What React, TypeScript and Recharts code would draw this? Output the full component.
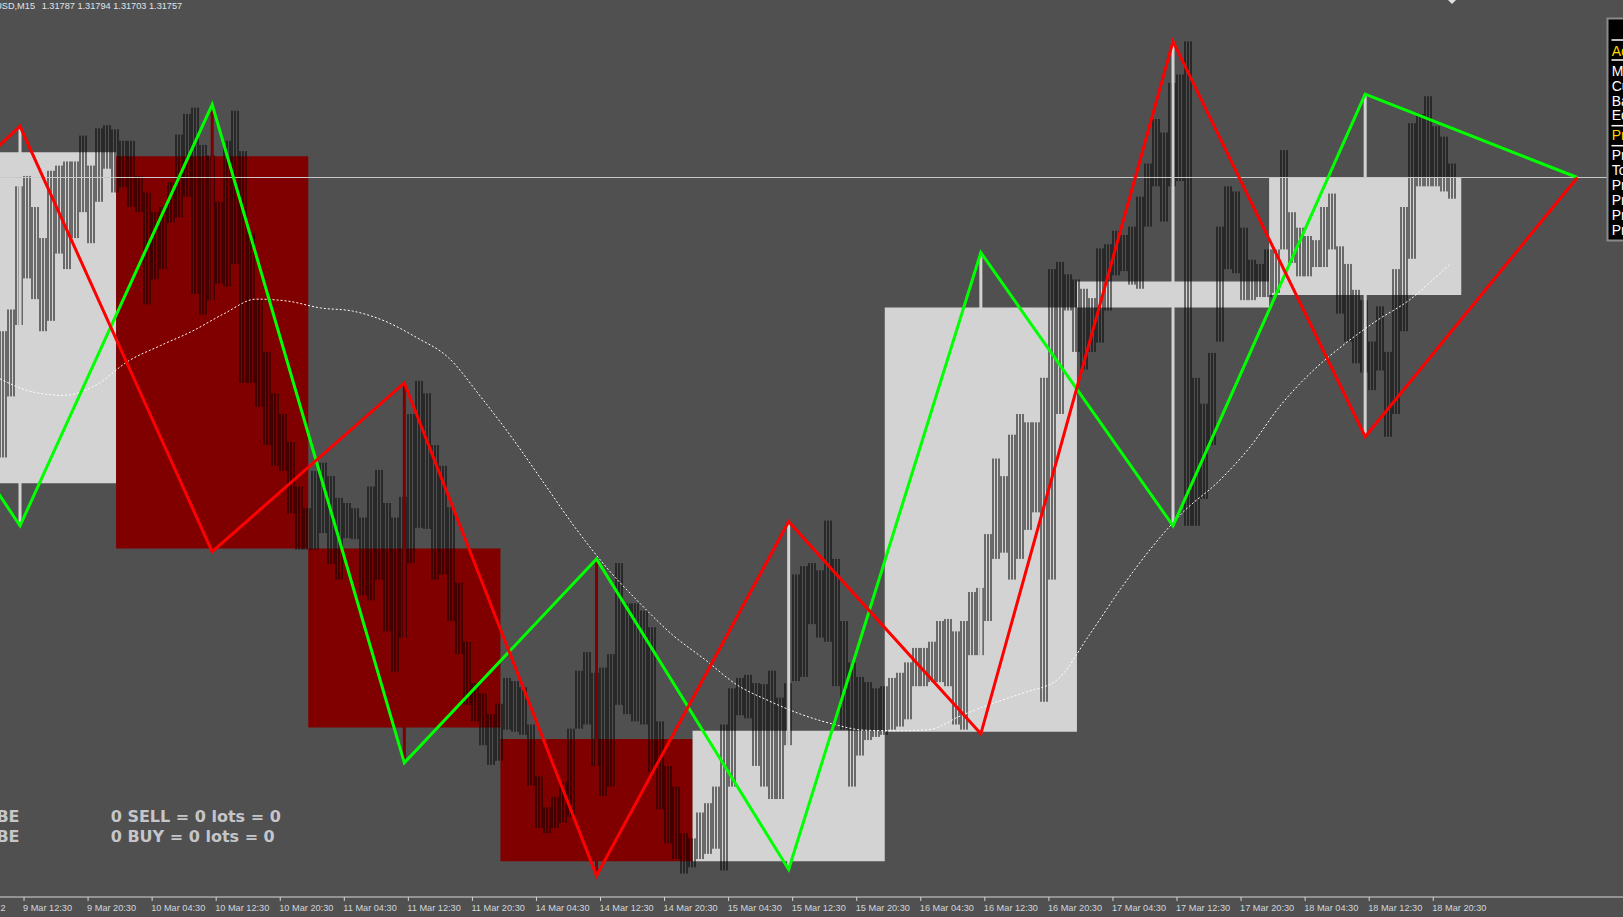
import React from 'react';
import { ComposedChart, XAxis, YAxis, Bar, Line, ReferenceArea, ReferenceLine } from 'recharts';

const WIDTH = 1623;
const HEIGHT = 917;
const BG = '#505050';
const AXIS_COLOR = '#d6d6d6';
const LABEL_COLOR = '#d2d6de';
const BULL = '#d3d3d3';
const BEAR = '#800000';
const FONT = "'Liberation Sans', Arial, sans-serif";

// ---- header / text ----
const symbolName = 'GBPUSD,M15';
const headerPrices = ['1.31787', '1.31794', '1.31703', '1.31757'];
const firstDayLabel = '9 Mar 2022';
const sellLine = '0 SELL = 0 lots = 0';
const buyLine = '0 BUY = 0 lots = 0';
const panelRows = ['Account', 'Margin', 'Currency', 'Balance', 'Equity', 'Profit', 'Profit', 'Total', 'Profit', 'Profit', 'Profit', 'Profit'];
const panelRowColors = ['#ffd700', '#fff', '#fff', '#fff', '#fff', '#ffd700', '#fff', '#fff', '#fff', '#fff', '#fff', '#fff'];

// ---- time axis (M15 bar index, bar 0 = 9 Mar 09:30) ----
const tickBars = [12, 44, 76, 108, 140, 172, 204, 236, 268, 300, 332, 364, 396, 428, 460, 492, 524, 556, 588, 620, 652, 684, 716];
const tickLabels = ['9 Mar 12:30', '9 Mar 20:30', '10 Mar 04:30', '10 Mar 12:30', '10 Mar 20:30', '11 Mar 04:30', '11 Mar 12:30', '11 Mar 20:30',
  '14 Mar 04:30', '14 Mar 12:30', '14 Mar 20:30', '15 Mar 04:30', '15 Mar 12:30', '15 Mar 20:30', '16 Mar 04:30', '16 Mar 12:30',
  '16 Mar 20:30', '17 Mar 04:30', '17 Mar 12:30', '17 Mar 20:30', '18 Mar 04:30', '18 Mar 12:30', '18 Mar 20:30'];

// ---- hourly price ranges (points, 1.31757 = 131757) ----
const barHigh = [
  131460, 131502, 131740, 131760, 131700, 131640, 131770, 131780, 131788, 131788,
  131838, 131780, 131852, 131858, 131850, 131828, 131828, 131760, 131728, 131690,
  131700, 131748, 131840, 131880, 131892, 131820, 131800, 131710, 131828, 131886,
  131808, 131650, 131520, 131420, 131340, 131300, 131246, 131160, 131118, 131190,
  131206, 131180, 131138, 131128, 131118, 131100, 131160, 131192, 131128, 131100,
  131140, 131300, 131364, 131340, 131240, 131200, 131120, 130974, 130860, 130780,
  130760, 130720, 130740, 130790, 130784, 130772, 130700, 130600, 130540, 130560,
  130588, 130692, 130804, 130840, 130800, 130810, 130836, 131012, 130934, 130934,
  130920, 130888, 130706, 130620, 130580, 130490, 130480, 130530, 130548, 130580,
  130700, 130770, 130790, 130796, 130780, 130778, 130804, 130752, 130780, 130990,
  131006, 131012, 130998, 131094, 131020, 130900, 130820, 130792, 130782, 130770,
  130774, 130790, 130800, 130820, 130848, 130848, 130860, 130900, 130904, 130880,
  130900, 130956, 130964, 131068, 131214, 131180, 131260, 131300, 131284, 131284,
  131370, 131580, 131594, 131570, 131560, 131542, 131524, 131620, 131628, 131654,
  131646, 131662, 131720, 131784, 131870, 131844, 131940, 131956, 132020, 131370,
  131320, 131418, 131662, 131740, 131730, 131660, 131598, 131590, 131618, 131618,
  131810, 131690, 131660, 131644, 131636, 131700, 131726, 131624, 131590, 131540,
  131520, 131440, 131508, 131420, 131580, 131700, 131862, 131880, 131914, 131856,
  131836, 131784,
];
const barLow = [
  131216, 131334, 131472, 131562, 131522, 131460, 131480, 131610, 131580, 131640,
  131690, 131630, 131710, 131774, 131728, 131738, 131700, 131690, 131512, 131560,
  131580, 131670, 131680, 131720, 131532, 131492, 131520, 131552, 131546, 131590,
  131360, 131360, 131314, 131240, 131200, 131190, 131108, 131038, 131038, 131038,
  131070, 131010, 130980, 131060, 131058, 130950, 130940, 130980, 130880, 130802,
  130868, 131012, 131080, 131078, 130980, 130990, 130900, 130836, 130738, 130706,
  130660, 130622, 130630, 130690, 130686, 130680, 130582, 130500, 130490, 130500,
  130510, 130522, 130692, 130700, 130620, 130562, 130580, 130738, 130720, 130706,
  130700, 130608, 130536, 130470, 130440, 130412, 130424, 130440, 130450, 130460,
  130418, 130580, 130718, 130712, 130620, 130580, 130556, 130556, 130660, 130784,
  130792, 130894, 130868, 130860, 130774, 130690, 130580, 130640, 130670, 130676,
  130680, 130690, 130696, 130710, 130774, 130774, 130782, 130782, 130774, 130700,
  130690, 130834, 130834, 130900, 131020, 131032, 130980, 131020, 131076, 131110,
  130744, 130980, 131300, 131500, 131420, 131386, 131420, 131438, 131500, 131568,
  131576, 131550, 131542, 131662, 131740, 131672, 131740, 131750, 131084, 131084,
  131136, 131240, 131440, 131580, 131572, 131520, 131520, 131526, 131526, 131534,
  131618, 131592, 131566, 131566, 131584, 131584, 131618, 131494, 131440, 131398,
  131380, 131346, 131384, 131256, 131300, 131460, 131600, 131740, 131740, 131740,
  131730, 131716,
];

// ---- moving average ----
const maTime = [0, 16, 32, 48, 64, 80, 96, 112, 128, 144, 160, 176, 192, 208, 224, 240, 256, 272, 288, 304, 320, 336, 352, 368, 384, 400,
  416, 432, 448, 464, 480, 496, 512, 528, 544, 560, 576, 592, 608, 624, 640, 656, 672, 688, 704, 720, 724];
const maValue = [131368, 131343, 131336, 131356, 131402, 131432, 131460, 131494, 131522, 131518, 131505, 131499, 131480, 131448, 131409,
  131334, 131253, 131165, 131077, 130999, 130933, 130873, 130826, 130777, 130746, 130720, 130701, 130689, 130688, 130690, 130717,
  130741, 130762, 130786, 130872, 130963, 131045, 131114, 131167, 131234, 131318, 131384, 131436, 131481, 131520, 131574, 131588];

// ---- daily candles (higher timeframe boxes) ----
const dayNames = ['9 Mar', '10 Mar', '11 Mar', '14 Mar', '15 Mar', '16 Mar', '17 Mar', '18 Mar'];
const dayStart = [-38, 58, 154, 250, 346, 442, 538, 634];
const dayOpen = [131166, 131798, 131040, 130672, 130436, 130686, 131506, 131530];
const dayHigh = [131856, 131898, 131360, 131020, 131092, 131612, 132020, 131918];
const dayLow = [131084, 131034, 130626, 130408, 130420, 130682, 131084, 131256];
const dayClose = [131806, 131040, 130694, 130436, 130688, 131506, 131556, 131756];
const prevDayCenter = -86;
const prevDayHigh = 131641;
const prevDayLow = 131510;
const projectionTime = 788;
const projectionPrice = 131757;
const lastPrice = 131757;

// ---- tables ----
const hourData = barHigh.map((h, i) => ({ t: i * 4 + 1.5, range: [barLow[i], h] }));
const maData = maTime.map((t, i) => ({ t, v: maValue[i] }));
const redZig = [
  { t: prevDayCenter, v: prevDayLow },
  ...dayNames.map((_, k) => ({ t: dayStart[k] + 48, v: k % 2 === 0 ? dayHigh[k] : dayLow[k] })),
  { t: projectionTime, v: projectionPrice },
];
const greenZig = [
  { t: prevDayCenter, v: prevDayHigh },
  ...dayNames.map((_, k) => ({ t: dayStart[k] + 48, v: k % 2 === 0 ? dayLow[k] : dayHigh[k] })),
  { t: projectionTime, v: projectionPrice },
];

// Each hourly range is drawn as thin 1px bar strokes across its band
const HourBars = (props: any) => {
  const { x, y, width, height } = props;
  if (height == null || isNaN(height)) return null;
  const cx = x + width / 2;
  const top = Math.min(y, y + height);
  const h = Math.abs(height);
  const offs = [-3, 0, 3];
  return (
    <g>
      {offs.map((o) => (
        <rect key={o} x={Math.round(cx + o) - 0.5} y={top} width={1} height={Math.max(h, 1)} fill="#000" />
      ))}
    </g>
  );
};

const AxisTick = (props: any) => {
  const { x, y, payload } = props;
  const idx = tickBars.indexOf(payload.value);
  return (
    <text x={x - 1} y={y + 8} fill={LABEL_COLOR} fontSize={9.2} fontFamily={FONT}>
      {tickLabels[idx]}
    </text>
  );
};

const panelBaselines = [56, 76, 91, 105.5, 120, 140, 160, 175, 190, 205, 220, 235];

export default function App() {
  return (
    <div style={{ position: 'fixed', left: 0, top: 0, width: WIDTH, height: HEIGHT, background: BG, overflow: 'hidden' }}>
      <ComposedChart width={WIDTH} height={HEIGHT} data={hourData} margin={{ top: 0, right: 0, bottom: 0, left: 0 }}>
        <XAxis xAxisId="t" type="number" dataKey="t" domain={[0, 810.8]} allowDataOverflow ticks={tickBars} interval={0}
          tick={<AxisTick />} tickSize={4} tickLine={{ stroke: AXIS_COLOR }} axisLine={{ stroke: AXIS_COLOR }} height={20} />
        <YAxis yAxisId="p" type="number" domain={[130366.7, 132100]} allowDataOverflow hide />
        {dayNames.map((d, k) => (
          <ReferenceArea key={'box' + d} xAxisId="t" yAxisId="p" x1={dayStart[k]} x2={dayStart[k] + 96}
            y1={Math.min(dayOpen[k], dayClose[k])} y2={Math.max(dayOpen[k], dayClose[k])}
            fill={dayClose[k] >= dayOpen[k] ? BULL : BEAR} fillOpacity={1} stroke="none" ifOverflow="hidden" />
        ))}
        {dayNames.map((d, k) => (
          <ReferenceLine key={'wick' + d} xAxisId="t" yAxisId="p"
            segment={[{ x: dayStart[k] + 48, y: dayLow[k] }, { x: dayStart[k] + 48, y: dayHigh[k] }]}
            stroke={dayClose[k] >= dayOpen[k] ? BULL : BEAR} strokeWidth={3} ifOverflow="hidden" />
        ))}
        <ReferenceLine xAxisId="t" yAxisId="p" y={lastPrice} stroke="#c8c8c8" strokeWidth={1} />
        <Bar xAxisId="t" yAxisId="p" dataKey="range" barSize={8} fill="#000" shape={<HourBars />} isAnimationActive={false} />
        <Line xAxisId="t" yAxisId="p" data={maData} dataKey="v" type="monotone" stroke="#ffffff" strokeWidth={1}
          strokeDasharray="2 2" dot={false} activeDot={false} isAnimationActive={false} />
        <Line xAxisId="t" yAxisId="p" data={greenZig} dataKey="v" type="linear" stroke="#00ff00" strokeWidth={3}
          dot={false} activeDot={false} isAnimationActive={false} />
        <Line xAxisId="t" yAxisId="p" data={redZig} dataKey="v" type="linear" stroke="#ff0000" strokeWidth={3}
          dot={false} activeDot={false} isAnimationActive={false} />
      </ComposedChart>
      <svg width={WIDTH} height={HEIGHT} style={{ position: 'absolute', left: 0, top: 0, pointerEvents: 'none' }}>
        <text x={35} y={9} textAnchor="end" fill="#dfe4ec" fontSize={9.2} fontFamily={FONT}>{symbolName}</text>
        <text x={41.7} y={9} fill="#dfe4ec" fontSize={9.2} fontFamily={FONT}>{headerPrices.join(' ')}</text>
        <polygon points="1448,0 1456,0 1452,4" fill="#e0e0e0" />
        <text x={5.5} y={911} textAnchor="end" fill={LABEL_COLOR} fontSize={9.2} fontFamily={FONT}>{firstDayLabel}</text>
        <text x={19.5} y={822} textAnchor="end" fill="#c6c6ca" fontSize={16} fontWeight="bold" fontFamily="'DejaVu Sans', sans-serif">BE</text>
        <text x={110.7} y={822} fill="#c6c6ca" fontSize={16} fontWeight="bold" fontFamily="'DejaVu Sans', sans-serif">{sellLine}</text>
        <text x={19.5} y={842} textAnchor="end" fill="#c6c6ca" fontSize={16} fontWeight="bold" fontFamily="'DejaVu Sans', sans-serif">BE</text>
        <text x={110.7} y={842} fill="#c6c6ca" fontSize={16} fontWeight="bold" fontFamily="'DejaVu Sans', sans-serif">{buyLine}</text>
        <rect x={1607.5} y={18.5} width={30} height={222} fill="#000" stroke="#8a8a8a" strokeWidth={2} />
        {[40, 60, 125.7, 145.7].map((yy) => (
          <line key={yy} x1={1611.5} x2={1623} y1={yy} y2={yy} stroke="#ffffff" strokeWidth={1.5} />
        ))}
        {panelRows.map((r, i) => (
          <text key={i} x={1611.7} y={panelBaselines[i]} fill={panelRowColors[i]} fontSize={14} fontFamily={FONT}>{r}</text>
        ))}
      </svg>
    </div>
  );
}
